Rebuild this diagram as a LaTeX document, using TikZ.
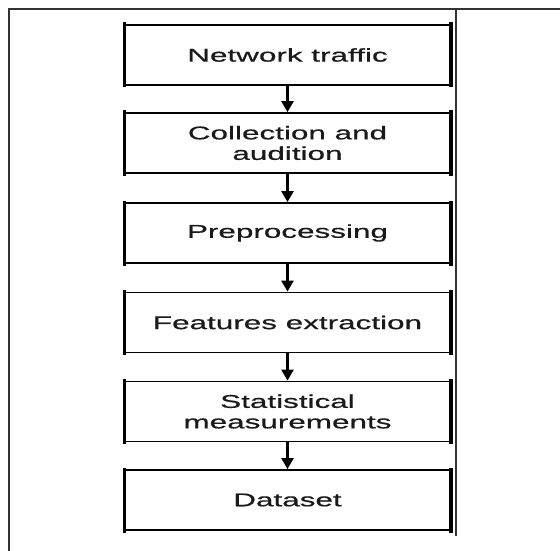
\documentclass[tikz,border=0pt]{standalone}
\usepackage{fontspec}
\newfontfamily\boxfont[FakeStretch=1.7,FakeBold=0.6]{Liberation Sans}
\usetikzlibrary{arrows.meta}
\definecolor{frame}{HTML}{333333}
\definecolor{ink}{HTML}{1A1A1A}
\begin{document}
\begin{tikzpicture}[x=1pt,y=-1pt,
  stepbox/.style={draw=black, line width=1.8pt, minimum width=325pt, minimum height=60pt,
    inner sep=0pt, align=center, text=ink,
    font=\boxfont\fontsize{18.5}{20.5}\selectfont},
  flow/.style={line width=2.5pt, -{Triangle[length=11pt,width=12pt]}},
  sideline/.style={line width=3.2pt, line cap=rect},
  framelines/.style={draw=frame, line width=1.6pt}]
\useasboundingbox (0,0) rectangle (560,551);
\draw[framelines] (9,551) -- (9,9) -- (560,9);
\draw[framelines] (456,9) -- (456,536);
\node[stepbox] (n1) at (287.5,55) {Network traffic};
\node[stepbox] (n2) at (287.5,143) {Collection and\\audition};
\node[stepbox] (n3) at (287.5,233) {Preprocessing};
\node[stepbox] (n4) at (287.5,322.5) {Features extraction};
\node[stepbox] (n5) at (287.5,411.5) {Statistical\\measurements};
\node[stepbox] (n6) at (287.5,500) {Dataset};
\foreach \n in {n1,n2,n3,n4,n5,n6}{
  \draw[sideline] (\n.north west) -- (\n.south west);
  \draw[sideline] (\n.north east) -- (\n.south east);
}
\draw[flow] (n1) -- (n2);
\draw[flow] (n2) -- (n3);
\draw[flow] (n3) -- (n4);
\draw[flow] (n4) -- (n5);
\draw[flow] (n5) -- (n6);
\end{tikzpicture}
\end{document}
